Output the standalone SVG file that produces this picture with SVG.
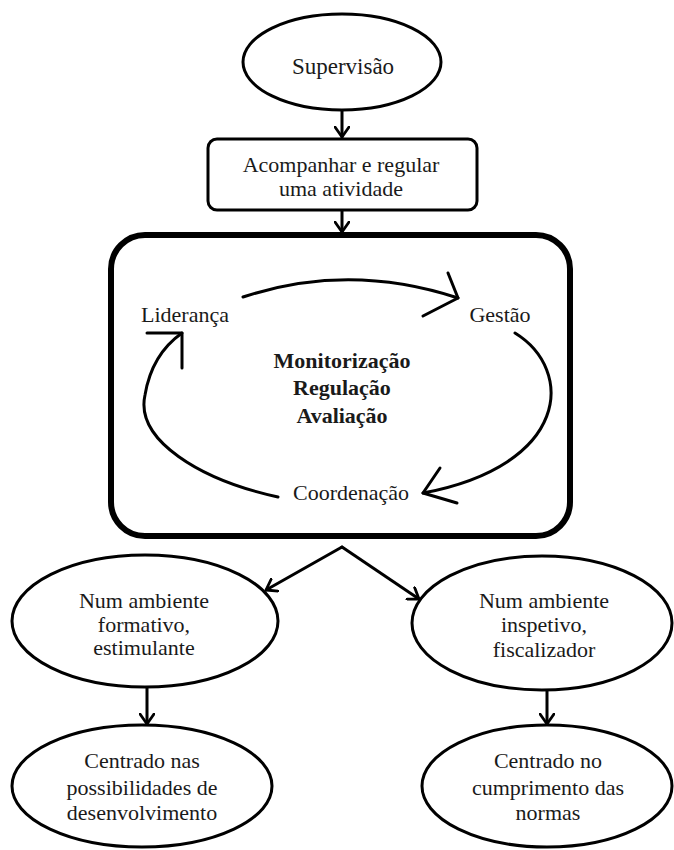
<svg xmlns="http://www.w3.org/2000/svg" width="674" height="850" viewBox="0 0 674 850">
<defs>
<style>
.t{font-family:"Liberation Serif","Times New Roman",serif;font-size:22px;fill:#1a1a1a;text-anchor:middle}
.b{font-weight:bold}
.sh{fill:#fff;stroke:#000;stroke-width:3}
.ln{fill:none;stroke:#000;stroke-width:3;stroke-linecap:round;stroke-linejoin:round}
</style>
<marker id="ah" markerUnits="userSpaceOnUse" viewBox="0 0 12 16" markerWidth="12" markerHeight="16" refX="11" refY="8" orient="auto">
<path d="M1,1 L11,8 L1,15" fill="none" stroke="#000" stroke-width="2.8" stroke-linecap="round" stroke-linejoin="round"/>
</marker>
</defs>
<rect width="674" height="850" fill="#fff"/>
<g id="connectors">
<line class="ln" x1="342" y1="110" x2="342" y2="137" marker-end="url(#ah)"/>
<line class="ln" x1="342" y1="211" x2="342" y2="232" marker-end="url(#ah)"/>
<path class="ln" d="M342,547 L266,590" marker-end="url(#ah)"/>
<path class="ln" d="M342,547 L419,599" marker-end="url(#ah)"/>
<line class="ln" x1="147" y1="688" x2="147" y2="724" marker-end="url(#ah)"/>
<line class="ln" x1="547" y1="690" x2="547" y2="724" marker-end="url(#ah)"/>
</g>
<g id="supervisao">
<ellipse class="sh" cx="342" cy="62" rx="99" ry="48"/>
<text class="t" x="343" y="74" style="font-size:23px">Supervisão</text>
</g>
<g id="acompanhar">
<rect class="sh" x="208" y="139" width="269" height="71" rx="9"/>
<text class="t" x="341" y="172">Acompanhar e regular</text>
<text class="t" x="341" y="196">uma atividade</text>
</g>
<g id="ciclo">
<rect x="111" y="235" width="459" height="301" rx="34" fill="#fff" stroke="#000" stroke-width="6"/>
<text class="t" x="185" y="322">Liderança</text>
<text class="t" x="500" y="322">Gestão</text>
<text class="t" x="351" y="500">Coordenação</text>
<text class="t b" x="342" y="368">Monitorização</text>
<text class="t b" x="342" y="395">Regulação</text>
<text class="t b" x="342" y="423">Avaliação</text>
<path class="ln" d="M243,297 Q349,262 458,298"/>
<path class="ln" d="M448,273 L458,298 L423,316"/>
<path class="ln" d="M515,333 C575,370 570,465 423,493"/>
<path class="ln" d="M440,468 L423,493 L457,503"/>
<path class="ln" d="M278,497 C200,480 135,440 145,395 C150,365 165,345 182,333"/>
<path class="ln" d="M147,333 L182,333 L182,368"/>
</g>
<g id="formativo">
<ellipse class="sh" cx="145" cy="621" rx="133" ry="66"/>
<text class="t" x="144" y="608">Num ambiente</text>
<text class="t" x="144" y="632">formativo,</text>
<text class="t" x="144" y="655">estimulante</text>
</g>
<g id="inspetivo">
<ellipse class="sh" cx="542" cy="623" rx="130" ry="67"/>
<text class="t" x="544" y="608">Num ambiente</text>
<text class="t" x="544" y="632">inspetivo,</text>
<text class="t" x="544" y="657">fiscalizador</text>
</g>
<g id="desenvolvimento">
<ellipse class="sh" cx="142" cy="786" rx="130" ry="61"/>
<text class="t" x="142" y="768">Centrado nas</text>
<text class="t" x="142" y="795">possibilidades de</text>
<text class="t" x="142" y="820">desenvolvimento</text>
</g>
<g id="normas">
<ellipse class="sh" cx="547" cy="786" rx="125" ry="61"/>
<text class="t" x="548" y="768">Centrado no</text>
<text class="t" x="548" y="795">cumprimento das</text>
<text class="t" x="548" y="820">normas</text>
</g>
</svg>
